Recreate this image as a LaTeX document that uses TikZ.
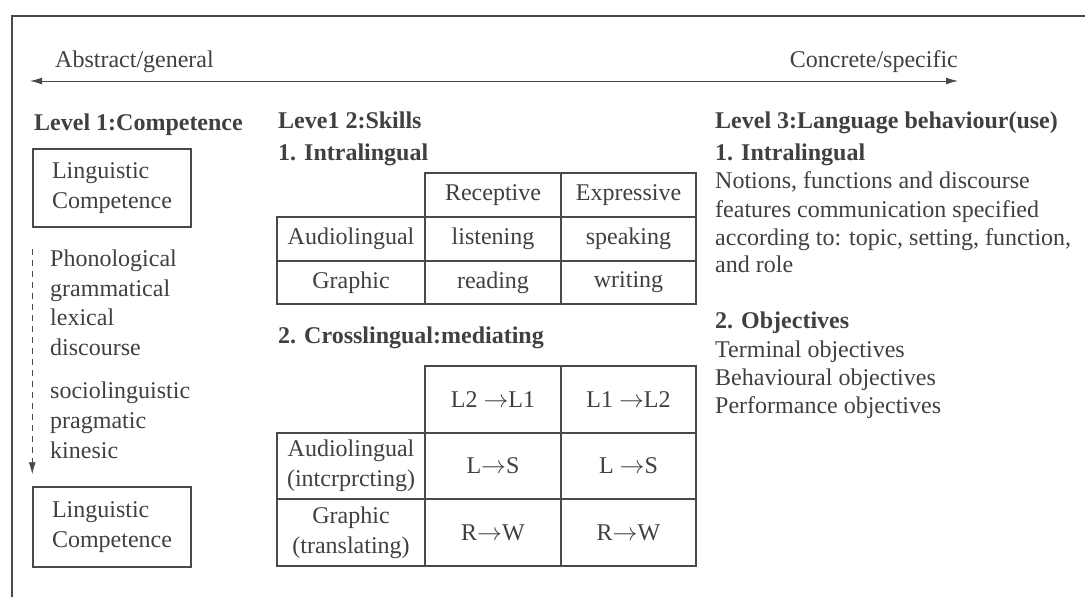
\documentclass[tikz,border=0pt]{standalone}
\usepackage{fontspec}
\setmainfont{Liberation Serif}
\usetikzlibrary{arrows.meta}
\definecolor{ink}{HTML}{404040}
\definecolor{rule}{HTML}{4A4A4A}
\newcommand{\arr}{\ensuremath{\rightarrow}}

\begin{document}
\begin{tikzpicture}[x=1pt,y=-1pt,
  every node/.style={inner sep=0pt, text=ink, font=\fontsize{24}{30}\selectfont},
  txt/.style={anchor=base west},
  head/.style={anchor=base west, font=\fontsize{24}{30}\selectfont\bfseries},
  cbox/.style={draw=rule, line width=1.5pt, minimum width=158pt, align=left},
  cell/.style={draw=rule, line width=1.5pt, align=center},
  tip/.style={-{Latex[length=12pt,width=7pt]}},
]
\useasboundingbox (0,0) rectangle (1085,597);
\clip (0,0) rectangle (1085,597);
\fill[white] (0,0) rectangle (1085,597);

% outer frame
\draw[rule, line width=2pt] (11.5,15.5) rectangle (1100,610);

% abstract <-> concrete scale
\coordinate (gen) at (30,81);
\coordinate (spec) at (958,81);
\draw[rule, line width=1pt, {Latex[length=12pt,width=7pt]}-{Latex[length=12pt,width=7pt]}] (gen) -- (spec);
\node[txt] (abs) at (55,67) {Abstract/general};
\node[anchor=base east] (con) at (958,67) {Concrete/specific};

% Level 1
\node[head] (lev1) at (34,130) {Level 1:Competence};
\node[cbox, minimum height=78pt] (box1) at (112,188) {Linguistic\\Competence};
\node[txt] (c1) at (50,266) {Phonological};
\node[txt] (c2) at (50,296) {grammatical};
\node[txt] (c3) at (50,325) {lexical};
\node[txt] (c4) at (50,355) {discourse};
\node[txt] (c5) at (50,398) {sociolinguistic};
\node[txt] (c6) at (50,428) {pragmatic};
\node[txt] (c7) at (50,458) {kinesic};
\node[cbox, minimum height=80pt] (box2) at (112,527) {Linguistic\\Competence};
\draw[rule, line width=0.9pt, dash pattern=on 6pt off 5pt, tip]
  ([yshift=-21pt]box1.south west) -- ([yshift=12pt]box2.north west);

% Level 2
\node[head] (lev2) at (278,128) {Leve1 2:Skills};
\node[head] (intra2) at (278,160) {1. Intralingual};

\node[cell, minimum width=136pt, minimum height=44pt] (rec) at (493,195) {Receptive};
\node[cell, minimum width=135pt, minimum height=44pt] (exp) at (628.5,195) {Expressive};
\node[cell, minimum width=148pt, minimum height=44pt] (aud) at (351,239) {Audiolingual};
\node[cell, minimum width=136pt, minimum height=44pt] (lis) at (493,239) {listening};
\node[cell, minimum width=135pt, minimum height=44pt] (spk) at (628.5,239) {speaking};
\node[cell, minimum width=148pt, minimum height=43pt] (gra) at (351,282.5) {Graphic};
\node[cell, minimum width=136pt, minimum height=43pt] (rea) at (493,282.5) {reading};
\node[cell, minimum width=135pt, minimum height=43pt] (wri) at (628.5,282.5) {writing};

\node[head] (cross) at (278,343) {2. Crosslingual:mediating};

\node[cell, minimum width=136pt, minimum height=67pt] (h21) at (493,399.5) {L2 \arr L1};
\node[cell, minimum width=135pt, minimum height=67pt] (h12) at (628.5,399.5) {L1 \arr L2};
\node[cell, minimum width=148pt, minimum height=66pt] (intp) at (351,466) {Audiolingual\\(intcrprcting)};
\node[cell, minimum width=136pt, minimum height=66pt] (ls1) at (493,466) {L\arr S};
\node[cell, minimum width=135pt, minimum height=66pt] (ls2) at (628.5,466) {L \arr S};
\node[cell, minimum width=148pt, minimum height=67pt] (trn) at (351,532.5) {Graphic\\(translating)};
\node[cell, minimum width=136pt, minimum height=67pt] (rw1) at (493,532.5) {R\arr W};
\node[cell, minimum width=135pt, minimum height=67pt] (rw2) at (628.5,532.5) {R\arr W};

% Level 3
\node[head] (lev3) at (715,128) {Level 3:Language behaviour(use)};
\node[head] (intra3) at (715,160) {1. Intralingual};
\node[txt] (n1) at (715,188) {Notions, functions and discourse};
\node[txt] (n2) at (715,217) {features communication specified};
\node[txt] (n3) at (715,245) {according to: topic, setting, function,};
\node[txt] (n4) at (715,272) {and role};
\node[head] (obj) at (715,328) {2. Objectives};
\node[txt] (o1) at (715,357) {Terminal objectives};
\node[txt] (o2) at (715,385) {Behavioural objectives};
\node[txt] (o3) at (715,413) {Performance objectives};
\end{tikzpicture}
\end{document}
